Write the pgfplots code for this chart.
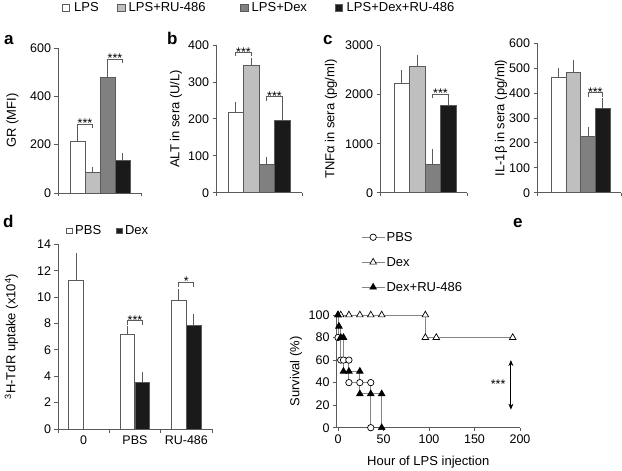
\documentclass[border=0pt]{standalone}
\usepackage{pgfplots}
\pgfplotsset{compat=1.18}
\usepackage{fontspec}
\setmainfont{Liberation Sans}
\usetikzlibrary{arrows.meta}
\definecolor{axgray}{HTML}{5A5A5A}
\definecolor{edgegray}{HTML}{5A5A5A}
\definecolor{lgray}{HTML}{BFBFBF}
\definecolor{dgray}{HTML}{808080}
\definecolor{blk}{HTML}{1A1A1A}
\definecolor{linegray}{HTML}{858585}
\newcommand{\fs}{\fontsize{12.5bp}{15bp}\selectfont}
\newcommand{\fa}{\fontsize{13bp}{15bp}\selectfont}
\newcommand{\fl}{\fontsize{13bp}{15bp}\selectfont}
\newcommand{\fp}{\fontsize{17bp}{20bp}\selectfont\bfseries}
\pgfplotsset{
  myax/.style={scale only axis, anchor=south west, axis lines=left,
    axis line style={-, draw=axgray, line width=0.8bp},
    every tick/.style={draw=axgray, line width=0.8bp},
    major tick length=3.5bp, tick align=outside,
    tick label style={font=\fs}, label style={font=\fa},
    /pgf/number format/assume math mode=true, /pgf/number format/1000 sep={},
    scaled ticks=false, clip=false},
  bars/.style={myax, xticklabels={{},{}}, ymin=0},
  mybar/.style={ybar, bar shift=0pt, bar width=1, draw=edgegray, line width=0.8bp, fill=#1,
    error bars/y dir=plus, error bars/y explicit,
    error bars/error bar style={draw=axgray, line width=0.8bp},
    error bars/error mark options={draw=axgray, line width=0.8bp, mark size=2.5bp}},
}
\tikzset{brk/.style={draw=axgray, line width=0.8bp}}
\begin{document}
\begin{tikzpicture}
\path[use as bounding box] (0bp,0bp) rectangle (622bp,471bp);
% top legend
\draw[edgegray, line width=0.7bp, fill=white] (62.3bp,459.5bp) rectangle (69.8bp,467bp);
\node[font=\fl, anchor=base west, inner sep=0] at (74bp,459.3bp) {LPS};
\draw[edgegray, line width=0.7bp, fill=lgray] (117.7bp,459.5bp) rectangle (125.2bp,467bp);
\node[font=\fl, anchor=base west, inner sep=0] at (128.5bp,459.3bp) {LPS+RU-486};
\draw[edgegray, line width=0.7bp, fill=dgray] (240.7bp,459.5bp) rectangle (248.2bp,467bp);
\node[font=\fl, anchor=base west, inner sep=0] at (251.5bp,459.3bp) {LPS+Dex};
\draw[edgegray, line width=0.7bp, fill=blk] (335bp,459.5bp) rectangle (342.5bp,467bp);
\node[font=\fl, anchor=base west, inner sep=0] at (346.5bp,459.3bp) {LPS+Dex+RU-486};
% panel letters
\node[font=\fp, anchor=base west, inner sep=0] at (4bp,426bp) {a};
\node[font=\fp, anchor=base west, inner sep=0] at (167bp,426bp) {b};
\node[font=\fp, anchor=base west, inner sep=0] at (323bp,426bp) {c};
\node[font=\fp, anchor=base west, inner sep=0] at (3bp,243bp) {d};
\node[font=\fp, anchor=base west, inner sep=0] at (513bp,243bp) {e};
% d legend
\draw[edgegray, line width=0.7bp, fill=white] (66.7bp,237.3bp) rectangle (72.2bp,242.8bp);
\node[font=\fl, anchor=base west, inner sep=0] at (75bp,236.7bp) {PBS};
\draw[edgegray, line width=0.7bp, fill=blk] (116.7bp,237.3bp) rectangle (122.2bp,242.8bp);
\node[font=\fl, anchor=base west, inner sep=0] at (124.8bp,236.7bp) {Dex};

% ---------- panel a
\begin{axis}[bars, at={(58bp,278bp)}, width=83bp, height=145bp,
  xmin=-0.3, xmax=5.233, ymax=600, ytick={0,200,400,600}, xtick={-0.3,5.233},
  ylabel={GR (MFI)}, ylabel style={at={(axis description cs:-0.548,0.5)}, anchor=center}]
\addplot[mybar=white] coordinates {(1,215) +- (0,46)};
\addplot[mybar=lgray] coordinates {(2,86) +- (0,12)};
\addplot[mybar=dgray] coordinates {(3,477) +- (0,53)};
\addplot[mybar=blk] coordinates {(4,134) +- (0,23)};
\draw[brk] (axis cs:1,268) |- (axis cs:2,284) -- (axis cs:2,268);
\node[font=\fs, anchor=base, inner sep=0, yshift=-3.5bp] at (axis cs:1.5,284) {***};
\draw[brk] (axis cs:3,539) |- (axis cs:4,553) -- (axis cs:4,539);
\node[font=\fs, anchor=base, inner sep=0, yshift=-3.5bp] at (axis cs:3.5,553) {***};
\end{axis}

% ---------- panel b
\begin{axis}[bars, at={(216bp,278.3bp)}, width=86bp, height=147.7bp,
  xmin=-0.274, xmax=5.274, ymax=400, ytick={0,100,200,300,400}, xtick={-0.274,5.274},
  ylabel={ALT in sera (U/L)}, ylabel style={at={(axis description cs:-0.465,0.5)}, anchor=center}]
\addplot[mybar=white] coordinates {(1,217) +- (0,22)};
\addplot[mybar=lgray] coordinates {(2,346) +- (0,11)};
\addplot[mybar=dgray] coordinates {(3,77) +- (0,13)};
\addplot[mybar=blk] coordinates {(4,195) +- (0,51)};
\draw[brk] (axis cs:1,369) |- (axis cs:2,379) -- (axis cs:2,369);
\node[font=\fs, anchor=base, inner sep=0, yshift=-3.5bp] at (axis cs:1.5,379) {***};
\draw[brk] (axis cs:3,249) |- (axis cs:4,260) -- (axis cs:4,249);
\node[font=\fs, anchor=base, inner sep=0, yshift=-3.5bp] at (axis cs:3.5,260) {***};
\end{axis}

% ---------- panel c (TNF)
\begin{axis}[bars, at={(380bp,278.3bp)}, width=87bp, height=147bp,
  xmin=-0.403, xmax=5.21, ymax=3000, ytick={0,1000,2000,3000}, xtick={-0.403,5.21},
  ylabel={TNFα in sera (pg/ml)}, ylabel style={at={(axis description cs:-0.563,0.5)}, anchor=center}]
\addplot[mybar=white] coordinates {(1,2224) +- (0,232)};
\addplot[mybar=lgray] coordinates {(2,2585) +- (0,170)};
\addplot[mybar=dgray] coordinates {(3,571) +- (0,266)};
\addplot[mybar=blk] coordinates {(4,1776) +- (0,129)};
\draw[brk] (axis cs:3,1939) |- (axis cs:4,2014) -- (axis cs:4,1939);
\node[font=\fs, anchor=base, inner sep=0, yshift=-3.5bp] at (axis cs:3.5,2014) {***};
\end{axis}

% ---------- panel c (IL-1b)
\begin{axis}[bars, at={(537bp,278.3bp)}, width=84bp, height=149.4bp,
  xmin=-0.493, xmax=5.26, ymax=600, ytick={0,100,200,300,400,500,600}, xtick={-0.493,5.26},
  ylabel={IL-1β in sera (pg/ml)}, ylabel style={at={(axis description cs:-0.429,0.5)}, anchor=center}]
\addplot[mybar=white] coordinates {(1,463) +- (0,26)};
\addplot[mybar=lgray] coordinates {(2,482) +- (0,42)};
\addplot[mybar=dgray] coordinates {(3,228) +- (0,26)};
\addplot[mybar=blk] coordinates {(4,340) +- (0,32)};
\draw[brk] (axis cs:3,386) |- (axis cs:4,402) -- (axis cs:4,386);
\node[font=\fs, anchor=base, inner sep=0, yshift=-3.5bp] at (axis cs:3.5,402) {***};
\end{axis}

% ---------- panel d
\begin{axis}[myax, at={(58bp,42bp)}, width=154bp, height=184.7bp,
  xmin=0, xmax=3, ymin=0, ymax=14, ytick={0,2,4,6,8,10,12,14},
  xtick={0.5,1.5,2.5}, xticklabels={0,PBS,RU-486}, xtick style={draw=none},
  ylabel={\textsuperscript{3}H-TdR uptake (x10\textsuperscript{4})},
  ylabel style={at={(axis description cs:-0.302,0.5)}, anchor=center}]
\addplot[mybar=white, bar width=0.288] coordinates {(0.354,11.25) +- (0,1.92) (1.354,7.15) +- (0,0.48) (2.354,9.73) +- (0,0.73)};
\addplot[mybar=blk, bar width=0.288] coordinates {(1.646,3.56) +- (0,0.58) (2.646,7.83) +- (0,0.71)};
\draw[brk] (axis cs:0,0) -- ++(0,-3.5bp);
\draw[brk] (axis cs:1,0) -- ++(0,-3.5bp);
\draw[brk] (axis cs:2,0) -- ++(0,-3.5bp);
\draw[brk] (axis cs:3,0) -- ++(0,-3.5bp);
\draw[brk] (axis cs:1.354,7.88) |- (axis cs:1.646,8.21) -- (axis cs:1.646,7.88);
\node[font=\fs, anchor=base, inner sep=0, yshift=-3.5bp] at (axis cs:1.5,8.21) {***};
\draw[brk] (axis cs:2.354,10.79) |- (axis cs:2.646,11.12) -- (axis cs:2.646,10.79);
\node[font=\fs, anchor=base, inner sep=0, yshift=-3.5bp] at (axis cs:2.5,11.12) {*};
\end{axis}

% ---------- panel e
\begin{axis}[myax, at={(336.6bp,43.3bp)}, width=183.4bp, height=112.7bp,
  xmin=-1.54, xmax=200, ymin=0, ymax=100, xtick={0,50,100,150,200}, ytick={0,20,40,60,80,100},
  xlabel={Hour of LPS injection}, ylabel={Survival (\%)},
  xlabel style={at={(axis description cs:0.5,-0.302)}, anchor=center},
  ylabel style={at={(axis description cs:-0.222,0.5)}, anchor=center},
  legend cell align=left,
  legend style={at={(axis description cs:0.133,1.745)}, anchor=north west, draw=none, fill=none,
    font=\fa, row sep=13bp, inner sep=0pt, nodes={inner sep=1.5bp, text height=9bp, text depth=0bp}},
  legend image code/.code={\draw[linegray, line width=0.9bp] (0bp,0bp) -- (23bp,0bp);
    \draw[#1] plot coordinates {(11.5bp,0bp)};}]
\addplot[linegray, line width=0.9bp, forget plot] coordinates {(0,100) (0,80) (3,80) (3,60) (12,60) (12,40) (36,40) (36,0)};
\addplot[linegray, line width=0.9bp, forget plot] coordinates {(0,100) (96,100) (96,80) (192,80)};
\addplot[linegray, line width=0.9bp, forget plot] coordinates {(0,100) (1,100) (1,90) (3,90) (3,80) (6,80) (6,50) (24,50) (24,30) (48,30) (48,0)};
\addplot[black, only marks, mark=*, mark size=3.2bp, mark options={fill=white, draw=black, line width=0.7bp}]
  coordinates {(0,80) (3,60) (6,60) (12,60) (12,40) (24,40) (36,40) (36,0)};
\addlegendentry{PBS}
\addplot[black, only marks, mark=triangle*, mark size=3.8bp, mark options={fill=white, draw=black, line width=0.7bp}]
  coordinates {(0,100) (3,100) (12,100) (24,100) (36,100) (48,100) (96,100) (96,80) (108,80) (192,80)};
\addlegendentry{Dex}
\addplot[black, only marks, mark=triangle*, mark size=3.8bp, mark options={fill=black, draw=black, line width=0.7bp}]
  coordinates {(0,100) (1,90) (3,80) (6,80) (6,50) (12,50) (24,50) (24,30) (36,30) (48,30) (48,0)};
\addlegendentry{Dex+RU-486}
\draw[{Stealth[length=6bp,width=5bp]}-{Stealth[length=6bp,width=5bp]}, black, line width=0.9bp] (axis cs:190,60) -- (axis cs:190,16);
\node[font=\fs, anchor=base, inner sep=0, yshift=-7.2bp] at (axis cs:176,41) {***};
\end{axis}
\end{tikzpicture}
\end{document}
